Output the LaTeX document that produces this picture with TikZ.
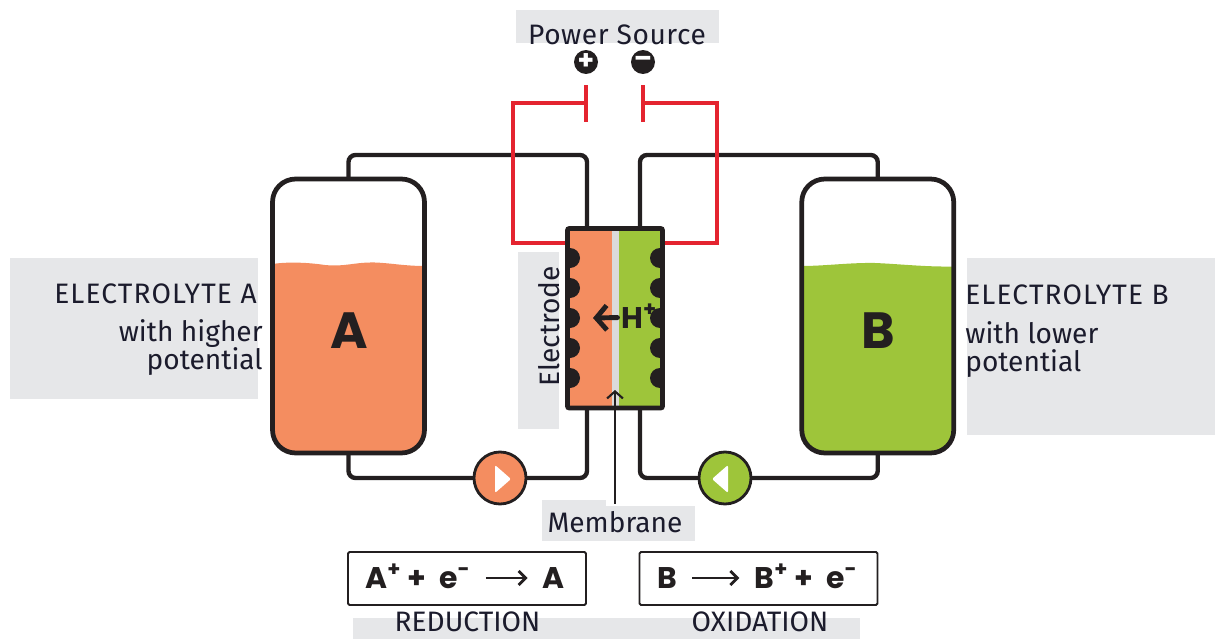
\documentclass[tikz,border=0pt]{standalone}
\usepackage{fontspec}
\setmainfont{Fira Sans}
\newfontfamily\heavyfam{Poppins}
\usetikzlibrary{arrows.meta}
\definecolor{liquidA}{HTML}{F48D60}
\definecolor{liquidB}{HTML}{9EC53A}
\definecolor{labelbg}{HTML}{E6E7E9}
\definecolor{ink}{HTML}{231F20}
\definecolor{labelink}{HTML}{1B1B2C}
\definecolor{wire}{HTML}{E4242F}
\tikzset{
  labelbox/.style={fill=labelbg, draw=none},
  pipe/.style={draw=ink, line width=2.5pt, rounded corners=0.14cm},
  redwire/.style={draw=wire, line width=2.4pt},
  tank/.style={rectangle, draw=ink, line width=2.7pt, rounded corners=0.46cm, outer sep=0pt,
    minimum width=3.04cm, minimum height=5.48cm},
  pump/.style={circle, draw=ink, line width=1.6pt, outer sep=0pt, inner sep=0pt, minimum size=1.04cm},
  sign/.style={circle, fill=ink, text=white, inner sep=0pt, minimum size=0.48cm,
    font=\fontsize{15}{15}\heavyfam\bfseries\selectfont},
  label/.style={inner sep=0pt, text=labelink, font=\fontsize{16}{18}\selectfont},
  widelabel/.style={label, font=\fontsize{16}{18}\selectfont\addfontfeature{LetterSpace=4}},
  bigletter/.style={inner sep=0pt, text=ink, font=\fontsize{29}{30}\heavyfam\bfseries\selectfont},
  eqbox/.style={rectangle, draw=ink, line width=1.1pt, rounded corners=0.03cm, outer sep=0pt,
    minimum width=4.76cm, minimum height=1.06cm},
  eqtext/.style={inner ysep=0pt, inner xsep=0.3cm, text=ink, text height=0.4cm, text depth=0pt,
    font=\fontsize{17}{18}\heavyfam\bfseries\selectfont},
  eqarrow/.style={draw=ink, line width=1.6pt, -{Straight Barb[length=4pt, width=8pt]}},
}
\begin{document}
\begin{tikzpicture}[x=0.02cm, y=-0.02cm]
  \useasboundingbox (0,0) rectangle (1215,639);

  \fill[labelbox] (516,10) rectangle (719,43);
  \fill[labelbox] (10,258) rectangle (258,399);
  \fill[labelbox] (967,258) rectangle (1215,435);
  \fill[labelbox] (518,252) rectangle (559,429);
  \fill[labelbox] (541.5,500) rectangle (606,541);
  \fill[labelbox] (541.5,506) rectangle (695,541);
  \fill[labelbox] (353,618) rectangle (860,639);

  \fill[liquidA] (272.5,264) .. controls (285,262) and (305,262) .. (325,265)
    .. controls (345,267) and (355,262) .. (375,262.5) .. controls (390,263) and (405,266) .. (424.5,266)
    [rounded corners=0.46cm] -- (424.5,453) -- (272.5,453) [sharp corners] -- cycle;
  \fill[liquidB] (801.5,266) .. controls (825,266) and (850,262.5) .. (875,263)
    .. controls (900,264) and (925,267) .. (954,266.5)
    [rounded corners=0.46cm] -- (954,453) -- (801.5,453) [sharp corners] -- cycle;

  \node[tank] (tankA) at (348.5,316) {};
  \node[tank] (tankB) at (877.75,316) {};
  \node[bigletter, anchor=base] (letterA) at (349,348) {A};
  \node[bigletter, anchor=base] (letterB) at (878,348) {B};

  \node[pump, fill=liquidA] (pumpA) at (500,478) {};
  \node[pump, fill=liquidB] (pumpB) at (725,478) {};
  \fill[white, rounded corners=0.04cm] (495,465) -- (511,479) -- (495,493) -- cycle;
  \fill[white, rounded corners=0.04cm] (728,465) -- (712,479) -- (728,493) -- cycle;

  \coordinate (topA) at (587,155);
  \coordinate (topB) at (640,155);
  \coordinate (portTopA) at (587,228);
  \coordinate (portTopB) at (640,228);
  \coordinate (portBotA) at (587,408);
  \coordinate (portBotB) at (640,408);
  \draw[pipe] (tankA.north) |- (topA) -- (portTopA);
  \draw[pipe] (tankB.north) |- (topB) -- (portTopB);
  \draw[pipe] (tankA.south) |- (pumpA.west);
  \draw[pipe] (pumpA.east) -| (portBotA);
  \draw[pipe] (tankB.south) |- (pumpB.east);
  \draw[pipe] (pumpB.west) -| (portBotB);

  \coordinate (plateA) at (586,103);
  \coordinate (plateB) at (643,103);
  \coordinate (plateAtop) at (586,85);
  \coordinate (plateAbot) at (586,122);
  \coordinate (plateBtop) at (643,85);
  \coordinate (plateBbot) at (643,122);
  \coordinate (wireA) at (513,103);
  \coordinate (wireB) at (717,103);
  \coordinate (termA) at (570,243);
  \coordinate (termB) at (660,243);
  \draw[redwire] (plateA) -- (wireA) |- (termA);
  \draw[redwire] (plateB) -- (wireB) |- (termB);
  \draw[redwire] (plateAtop) -- (plateAbot);
  \draw[redwire] (plateBtop) -- (plateBbot);

  \fill[liquidA] (567.5,228.5) rectangle (612,408);
  \fill[liquidB] (619,228.5) rectangle (662.5,408);
  \fill[black!14] (612,228.5) rectangle (619,408);
  \fill[ink] (570,248) arc (-90:90:10) -- cycle;
  \fill[ink] (570,278) arc (-90:90:10) -- cycle;
  \fill[ink] (570,308) arc (-90:90:10) -- cycle;
  \fill[ink] (570,338) arc (-90:90:10) -- cycle;
  \fill[ink] (570,368) arc (-90:90:10) -- cycle;
  \fill[ink] (660,248) arc (270:90:10) -- cycle;
  \fill[ink] (660,278) arc (270:90:10) -- cycle;
  \fill[ink] (660,308) arc (270:90:10) -- cycle;
  \fill[ink] (660,338) arc (270:90:10) -- cycle;
  \fill[ink] (660,368) arc (270:90:10) -- cycle;
  \node[rectangle, draw=ink, line width=2.8pt, rounded corners=0.04cm, outer sep=0pt,
    minimum width=1.9cm, minimum height=3.59cm] (cell) at (615,318.25) {};

  \node[inner sep=0pt, anchor=west, text=ink, text height=0.42cm, text depth=0pt,
    font=\fontsize{17}{18}\heavyfam\bfseries\selectfont] (hion) at (621,317.5) {H\textsuperscript{+}};
  \coordinate (hend) at (593,318);
  \draw[draw=ink, line width=2.8pt, line cap=round, shorten <=2pt, -{Straight Barb[length=6pt, width=14pt]}] (hion.west) -- (hend);

  \node[sign] (plus) at (586,62) {+};
  \node[sign] (minus) at (643,62) {–};

  \node[label, anchor=base, font=\fontsize{16}{18}\selectfont\addfontfeature{LetterSpace=2}] (source) at (617,44) {Power Source};
  \node[widelabel, anchor=base east] (elecA) at (257,303) {ELECTROLYTE A};
  \node[label, anchor=base east] (higher) at (263,341) {with higher};
  \node[label, anchor=base east] (potA) at (263,369) {potential};
  \node[widelabel, anchor=base west] (elecB) at (965,304) {ELECTROLYTE B};
  \node[label, anchor=base west] (lower) at (965,343) {with lower};
  \node[label, anchor=base west] (potB) at (965,371) {potential};
  \node[label, anchor=base, rotate=90] (electrode) at (559,326.5) {Electrode};
  \node[label, anchor=base] (membrane) at (615,532) {Membrane};
  \coordinate (membraneTip) at (615,390);
  \draw[draw=ink, line width=1.2pt, shorten <=4pt, -{Straight Barb[length=4pt, width=9pt]}] (membrane.north) -- (membraneTip);

  \node[eqbox] (eqA) at (467,578.5) {};
  \node[eqbox] (eqB) at (758.5,578.5) {};
  \node[eqtext, anchor=west] (lhsA) at (350,578) {A\textsuperscript{+} +\ \ e\textsuperscript{-}};
  \node[eqtext] (rhsA) at (554,578) {A};
  \draw[eqarrow] (lhsA) -- (rhsA);
  \node[eqtext] (lhsB) at (667,578) {B};
  \node[eqtext, anchor=east] (rhsB) at (873,578) {B\textsuperscript{+} +\ \ e\textsuperscript{-}};
  \draw[eqarrow] (lhsB) -- (rhsB);

  \node[label, anchor=base] (reduction) at (467.5,631) {REDUCTION};
  \node[label, anchor=base] (oxidation) at (760,631) {OXIDATION};
\end{tikzpicture}
\end{document}
